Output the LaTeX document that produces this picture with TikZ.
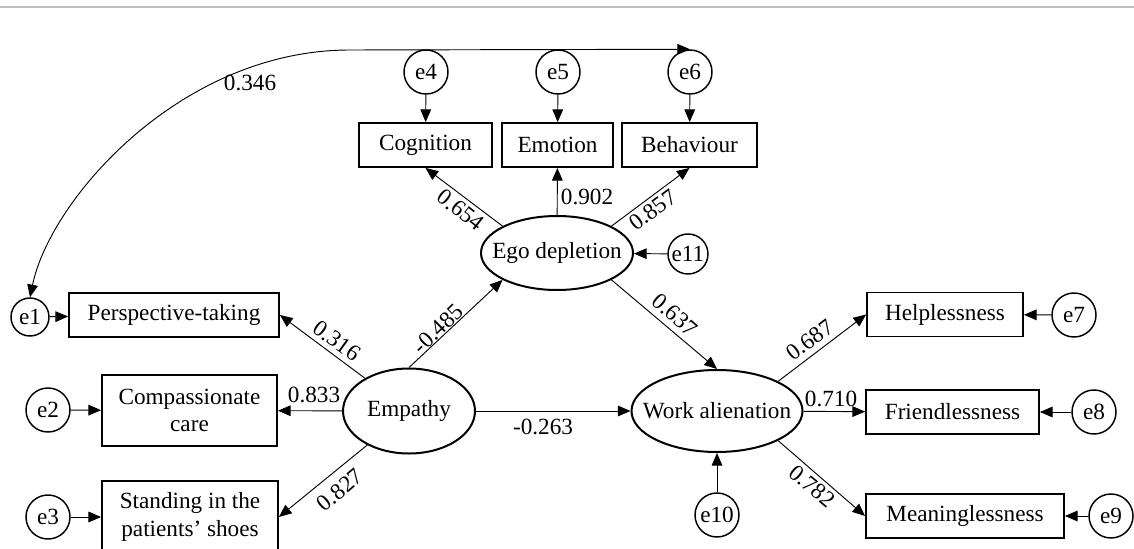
\documentclass[tikz,border=0pt]{standalone}
\usepackage{fontspec}
\setmainfont{Liberation Serif}
\usetikzlibrary{arrows.meta,shapes.geometric}

\begin{document}
\begin{tikzpicture}
        [
            x=0.75pt,
            y=-0.75pt,
            font=\fontsize{17.4}{20.6}\selectfont,
            >={Triangle[length=9.5pt,width=8pt]},
            line width=0.7pt,
            obs/.style={rectangle, draw, line width=1.4pt, inner sep=0pt, minimum height=33pt},
            latent/.style={ellipse, draw, line width=1.5pt, inner sep=0pt},
            err/.style={circle, draw, line width=1.1pt, inner sep=0pt, minimum size=33pt},
            coef/.style={inner sep=0pt}
        ]
        \useasboundingbox (0,0) rectangle (1134,549);
        \draw[black!25, line width=1.2pt] (0,7) -- (1134,7);

        % latent variables
        \node[latent, minimum width=99pt, minimum height=63.75pt] (emp) at (409,411) {Empathy};
        \node[latent, minimum width=114pt, minimum height=55.5pt] (ego) at (557,253) {\makebox[0pt]{Ego depletion}};
        \node[latent, minimum width=128.25pt, minimum height=61.5pt] (work) at (717,411) {\makebox[0pt]{Work alienation}};

        % observed variables
        \node[obs, minimum width=157.5pt] (persp) at (174,315) {Perspective-taking};
        \node[obs, minimum width=131.25pt, minimum height=53.25pt, align=center] (comp) at (189.5,410.5) {Compassionate\\care};
        \node[obs, minimum width=132pt, minimum height=54pt, align=center] (stand) at (190,517) {Standing in the\\patients’ shoes};
        \node[obs, minimum width=99.75pt] (cog) at (425.5,145) {Cognition};
        \node[obs, minimum width=83.25pt] (emo) at (557.5,145) {Emotion};
        \node[obs, minimum width=101.25pt] (beh) at (689.5,145) {Behaviour};
        \node[obs, minimum width=117pt] (help) at (945,314.5) {Helplessness};
        \node[obs, minimum width=129.75pt] (friend) at (952.5,412) {Friendlessness};
        \node[obs, minimum width=148.5pt] (mean) at (965,516) {Meaninglessness};

        % error terms
        \node[err, minimum size=28.5pt] (e1) at (30,317) {e1};
        \node[err] (e2) at (48,410) {e2};
        \node[err] (e3) at (48,517) {e3};
        \node[err] (e4) at (426,72) {e4};
        \node[err] (e5) at (558,72) {e5};
        \node[err] (e6) at (690,72) {e6};
        \node[err] (e7) at (1074,315) {e7};
        \node[err] (e8) at (1094,412) {e8};
        \node[err] (e9) at (1111,516) {e9};
        \node[err] (e10) at (717,515) {e10};
        \node[err, minimum size=30pt] (e11) at (688,254) {e11};

        \draw[->] (e1) -- (persp);
        \draw[->] (e2) -- (comp);
        \draw[->] (e3) -- (stand);
        \draw[->] (e4) -- (cog);
        \draw[->] (e5) -- (emo);
        \draw[->] (e6) -- (beh);
        \draw[->] (e7) -- (help);
        \draw[->] (e8) -- (friend);
        \draw[->] (e9) -- (mean);
        \draw[->] (e10) -- (work);
        \draw[->] (e11) -- (ego);

        % loadings and paths
        \draw[->] (emp) -- (persp.east);
        \draw[->] (emp) -- (comp);
        \draw[->] (emp) -- (stand.east);
        \draw[->] (emp.north) -- (ego.south west);
        \draw[->] (emp) -- (work);
        \draw[->] (ego.north west) -- (cog.south);
        \draw[->] (ego) -- (emo);
        \draw[->] (ego.north east) -- (beh.south);
        \draw[->] (ego.south east) -- (work.north);
        \draw[->] (work.north east) -- (help.west);
        \draw[->] (work) -- (friend);
        \draw[->] (work.south east) -- (mean.west);

        % covariance
        \coordinate (top) at (350,50);
        \draw[<->] (e1.north) .. controls (50,200) and (180,50) .. (top) -- (e6.north);

        \node[coef] (c346) at (250,83) {0.346};
        \node[coef, rotate=-38] (c654) at (461,210) {0.654};
        \node[coef] (c902) at (587,197) {0.902};
        \node[coef, rotate=37] (c857) at (653,210) {0.857};
        \node[coef, rotate=-36] (c316) at (337,341) {0.316};
        \node[coef, rotate=44] (c485) at (438,329) {-0.485};
        \node[coef] (c833) at (314,395) {0.833};
        \node[coef, rotate=40] (c827) at (340,490) {0.827};
        \node[coef] (c263) at (543,427) {-0.263};
        \node[coef, rotate=-41] (c637) at (675,315) {0.637};
        \node[coef, rotate=37] (c687) at (810,340) {0.687};
        \node[coef] (c710) at (831,399) {0.710};
        \node[coef, rotate=-40] (c782) at (812,486) {0.782};
\end{tikzpicture}
\end{document}
